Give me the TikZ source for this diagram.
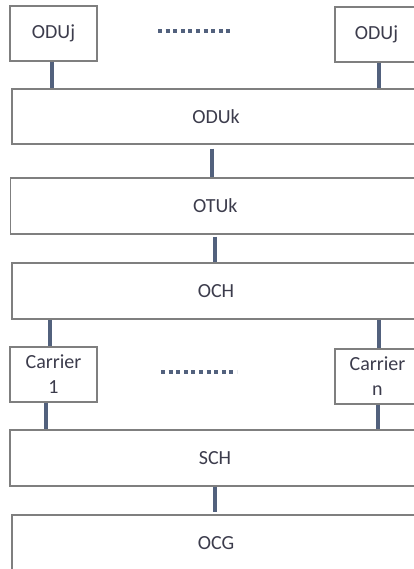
\documentclass[tikz,border=0pt]{standalone}
\usepackage{fontspec}
\setmainfont{Carlito}
\definecolor{boxline}{HTML}{7F7F7F}
\definecolor{linkcol}{HTML}{52617D}
\definecolor{txtcol}{HTML}{3C3C4C}
\begin{document}
\begin{tikzpicture}[x=0.75pt,y=-0.75pt,
  layer/.style={draw=boxline, line width=1pt, fill=white, rectangle,
    inner sep=0pt, text=txtcol, align=center,
    font=\fontsize{15}{18.75}\selectfont},
  link/.style={draw=linkcol, line width=3pt},
  etc/.style={draw=linkcol, line width=2.6pt, dash pattern=on 3pt off 2.7pt}]
\useasboundingbox (0,0) rectangle (414,569);

% client and line layers
\node[layer, minimum width=65.25pt, minimum height=41.25pt] (oduja) at (53.5,33.5) {ODUj};
\node[layer, minimum width=62.25pt, minimum height=41.25pt] (odujb) at (376.5,34.5) {ODUj};
\node[layer, minimum width=306pt, minimum height=41.25pt] (oduk) at (216,116.5) {ODUk};
\node[layer, minimum width=306.75pt, minimum height=42pt] (otuk) at (215.25,206) {OTUk};
\node[layer, minimum width=306pt, minimum height=42pt] (och) at (216,291) {OCH};
\node[layer, minimum width=65.25pt, minimum height=41.25pt] (cara) at (53.5,374.5) {Carrier\\1};
\node[layer, minimum width=63.75pt, minimum height=41.25pt] (carb) at (377.5,376.5) {Carrier\\n};
\node[layer, minimum width=307.5pt, minimum height=42pt] (sch) at (215,458) {SCH};
\node[layer, minimum width=306pt, minimum height=42pt] (ocg) at (216,543) {OCG};

% ellipses between parallel boxes
\coordinate (etcA1) at (158,31);
\coordinate (etcA2) at (233,31);
\coordinate (etcB1) at (161,372);
\coordinate (etcB2) at (237,372);
\draw[etc] (etcA1) -- (etcA2);
\draw[etc] (etcB1) -- (etcB2);

% connections between layers
\draw[link] ([xshift=-1.1pt]oduja.south) -- ([xshift=-1.1pt]oduja.south |- oduk.north);
\draw[link] ([xshift=2.2pt]odujb.south) -- ([xshift=2.2pt]odujb.south |- oduk.north);
\draw[link] ([xshift=-3pt,yshift=-3pt]oduk.south) -- ([xshift=-3pt]oduk.south |- otuk.north);
\draw[link] ([yshift=-1.5pt]otuk.south) -- (otuk.south |- och.north);
\draw[link] ([xshift=-2.6pt]cara.north |- och.south) -- ([xshift=-2.6pt]cara.north);
\draw[link] ([xshift=1.1pt]carb.north |- och.south) -- ([xshift=1.1pt]carb.north);
\draw[link] ([xshift=-5.6pt]cara.south) -- ([xshift=-5.6pt]cara.south |- sch.north);
\draw[link] ([xshift=0.4pt]carb.south) -- ([xshift=0.4pt]carb.south |- sch.north);
\draw[link] (sch.south) -- ([yshift=2pt]sch.south |- ocg.north);
\end{tikzpicture}
\end{document}
